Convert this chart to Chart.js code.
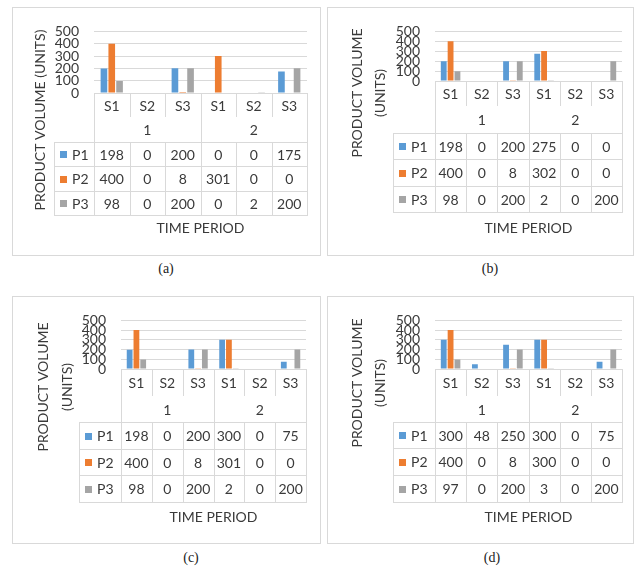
<!DOCTYPE html>
<html>
<head>
<meta charset="utf-8">
<script src="https://cdn.jsdelivr.net/npm/chart.js@4.4.0/dist/chart.umd.min.js"></script>
<style>
  body { margin: 0; background: #fff; width: 637px; height: 570px; position: relative; overflow: hidden; }
  .panel { position: absolute; border: 1px solid #d9d9d9; }
  .panel canvas { position: absolute; left: 0; top: 0; }
  .cap { position: absolute; font-family: "Liberation Serif", serif; font-size: 14px; color: #222; transform: translateX(-50%); }
</style>
</head>
<body>
<div class="panel" style="left:12px;top:7px;width:307px;height:247px"><canvas id="ca" width="307" height="247"></canvas></div>
<div class="panel" style="left:327px;top:7px;width:305px;height:247px"><canvas id="cb" width="305" height="247"></canvas></div>
<div class="panel" style="left:12px;top:296px;width:307px;height:246px"><canvas id="cc" width="307" height="246"></canvas></div>
<div class="panel" style="left:327px;top:296px;width:305px;height:246px"><canvas id="cd" width="305" height="246"></canvas></div>
<div class="cap" style="left:166px;top:261px">(a)</div>
<div class="cap" style="left:490px;top:261px">(b)</div>
<div class="cap" style="left:191px;top:550px">(c)</div>
<div class="cap" style="left:492px;top:550px">(d)</div>
<script>
// categories and series
var categories = ['S1', 'S2', 'S3', 'S1', 'S2', 'S3'];
var periods = ['1', '2'];
var seriesNames = ['P1', 'P2', 'P3'];
var yTicks = [0, 100, 200, 300, 400, 500];
var xTitle = 'TIME PERIOD';
var yTitle = 'PRODUCT VOLUME (UNITS)';

// (a)
var p1a = [198, 0, 200, 0, 0, 175];
var p2a = [400, 0, 8, 301, 0, 0];
var p3a = [98, 0, 200, 0, 2, 200];
// (b)
var p1b = [198, 0, 200, 275, 0, 0];
var p2b = [400, 0, 8, 302, 0, 0];
var p3b = [98, 0, 200, 2, 0, 200];
// (c)
var p1c = [198, 0, 200, 300, 0, 75];
var p2c = [400, 0, 8, 301, 0, 0];
var p3c = [98, 0, 200, 2, 0, 200];
// (d)
var p1d = [300, 48, 250, 300, 0, 75];
var p2d = [400, 0, 8, 300, 0, 0];
var p3d = [97, 0, 200, 3, 0, 200];

var colors = ['#5B9BD5', '#ED7D31', '#A5A5A5'];
var textColor = '#3a3a3a';
var lineColor = '#d9d9d9';
var font = 'Lato';

Chart.defaults.font.family = font;
Chart.defaults.color = textColor;

// page positions of each panel (box = top-left of border)
var layouts = {
  ca: { box: [12, 7], w: 307, h: 247, plot: [94, 25, 307, 93], legendX: 54, rows: [93, 117, 142, 166, 191, 215], timeY: 228, titleX: [40], titleY: 120 },
  cb: { box: [327, 7], w: 305, h: 247, plot: [435, 25, 622, 81], legendX: 393, rows: [81, 106, 133, 159, 186, 212], timeY: 228, titleX: [357, 380], titleY: 93 },
  cc: { box: [12, 296], w: 307, h: 246, plot: [121, 314, 306, 369], legendX: 79, rows: [369, 396, 422, 449, 475, 502], timeY: 517, titleX: [43, 67], titleY: 387 },
  cd: { box: [327, 296], w: 305, h: 246, plot: [435, 313, 622, 369], legendX: 393, rows: [369, 396, 422, 448, 475, 502], timeY: 517, titleX: [357, 380], titleY: 383 }
};

function tablePlugin(lay) {
  var ox = lay.box[0] + 1, oy = lay.box[1] + 1;
  return {
    id: 'dataTable',
    afterDraw: function(chart) {
      var ctx = chart.ctx, xs = chart.scales.x, area = chart.chartArea;
      var n = chart.data.labels.length;
      var cw = (area.right - area.left) / n;
      var edges = [];
      for (var i = 0; i < n; i++) edges.push(xs.getPixelForValue(i) - cw / 2);
      edges.push(xs.getPixelForValue(n - 1) + cw / 2);
      var r = lay.rows.map(function(v) { return v - oy; });
      var lx = lay.legendX - ox;
      var right = edges[n];

      ctx.save();
      ctx.strokeStyle = lineColor;
      ctx.lineWidth = 1;
      ctx.beginPath();
      // sub category row
      edges.forEach(function(x) { ctx.moveTo(Math.round(x) + 0.5, r[0]); ctx.lineTo(Math.round(x) + 0.5, r[1]); });
      // period row
      [0, 3, 6].forEach(function(k) { var x = Math.round(edges[k]) + 0.5; ctx.moveTo(x, r[1]); ctx.lineTo(x, r[2]); });
      // data rows
      for (var j = 2; j < r.length; j++) { ctx.moveTo(lx, Math.round(r[j]) + 0.5); ctx.lineTo(right + 1, Math.round(r[j]) + 0.5); }
      ctx.moveTo(Math.round(lx) + 0.5, r[2]); ctx.lineTo(Math.round(lx) + 0.5, r[5]);
      edges.forEach(function(x) { ctx.moveTo(Math.round(x) + 0.5, r[2]); ctx.lineTo(Math.round(x) + 0.5, r[5]); });
      ctx.stroke();

      ctx.fillStyle = textColor;
      ctx.textAlign = 'center';
      ctx.textBaseline = 'middle';
      ctx.font = '14px ' + font;
      chart.data.labels.forEach(function(lab, i) {
        ctx.fillText(lab, (edges[i] + edges[i + 1]) / 2, (r[0] + r[1]) / 2 + 1);
      });
      periods.forEach(function(p, k) {
        ctx.fillText(p, (edges[k * 3] + edges[k * 3 + 3]) / 2, (r[1] + r[2]) / 2 + 1);
      });
      chart.data.datasets.forEach(function(ds, k) {
        var cy = (r[2 + k] + r[3 + k]) / 2 + 1;
        ctx.fillStyle = ds.backgroundColor;
        ctx.fillRect(lx + 6, Math.round(cy - 4), 7, 7);
        ctx.fillStyle = textColor;
        ctx.textAlign = 'left';
        ctx.fillText(ds.label, lx + 18, cy);
        ctx.textAlign = 'center';
        ds.data.forEach(function(v, i) {
          ctx.fillText(String(v), (edges[i] + edges[i + 1]) / 2, cy);
        });
      });

      // axis titles
      ctx.font = '14px ' + font;
      ctx.fillText(xTitle, (area.left + area.right) / 2, lay.timeY - oy);
      var lines = lay.titleX.length > 1 ? ['PRODUCT VOLUME', '(UNITS)'] : [yTitle];
      lines.forEach(function(t, k) {
        ctx.save();
        ctx.translate(lay.titleX[k] - ox, lay.titleY - oy);
        ctx.rotate(-Math.PI / 2);
        ctx.fillText(t, 0, 0);
        ctx.restore();
      });
      ctx.restore();
    }
  };
}

function makeChart(id, d1, d2, d3) {
  var lay = layouts[id];
  var ox = lay.box[0] + 1, oy = lay.box[1] + 1;
  var yW = 50;
  new Chart(document.getElementById(id), {
    type: 'bar',
    data: {
      labels: categories,
      datasets: [d1, d2, d3].map(function(d, k) {
        return { label: seriesNames[k], data: d, backgroundColor: colors[k], categoryPercentage: 0.66, barPercentage: 0.85 };
      })
    },
    options: {
      responsive: false,
      animation: false,
      devicePixelRatio: 1,
      layout: {
        padding: {
          left: lay.plot[0] - ox - yW,
          top: lay.plot[1] - oy,
          right: ox + lay.w - lay.plot[2],
          bottom: oy + lay.h - lay.plot[3]
        }
      },
      plugins: { legend: { display: false }, tooltip: { enabled: false } },
      scales: {
        x: { display: false },
        y: {
          min: yTicks[0],
          max: yTicks[yTicks.length - 1],
          afterFit: function(s) { s.width = yW; },
          afterBuildTicks: function(s) { s.ticks = yTicks.map(function(v) { return { value: v }; }); },
          border: { display: false },
          grid: { color: lineColor, drawTicks: false },
          ticks: { autoSkip: false, padding: 15, font: { size: 14 }, color: textColor }
        }
      }
    },
    plugins: [tablePlugin(lay)]
  });
}

makeChart('ca', p1a, p2a, p3a);
makeChart('cb', p1b, p2b, p3b);
makeChart('cc', p1c, p2c, p3c);
makeChart('cd', p1d, p2d, p3d);
</script>
</body>
</html>
